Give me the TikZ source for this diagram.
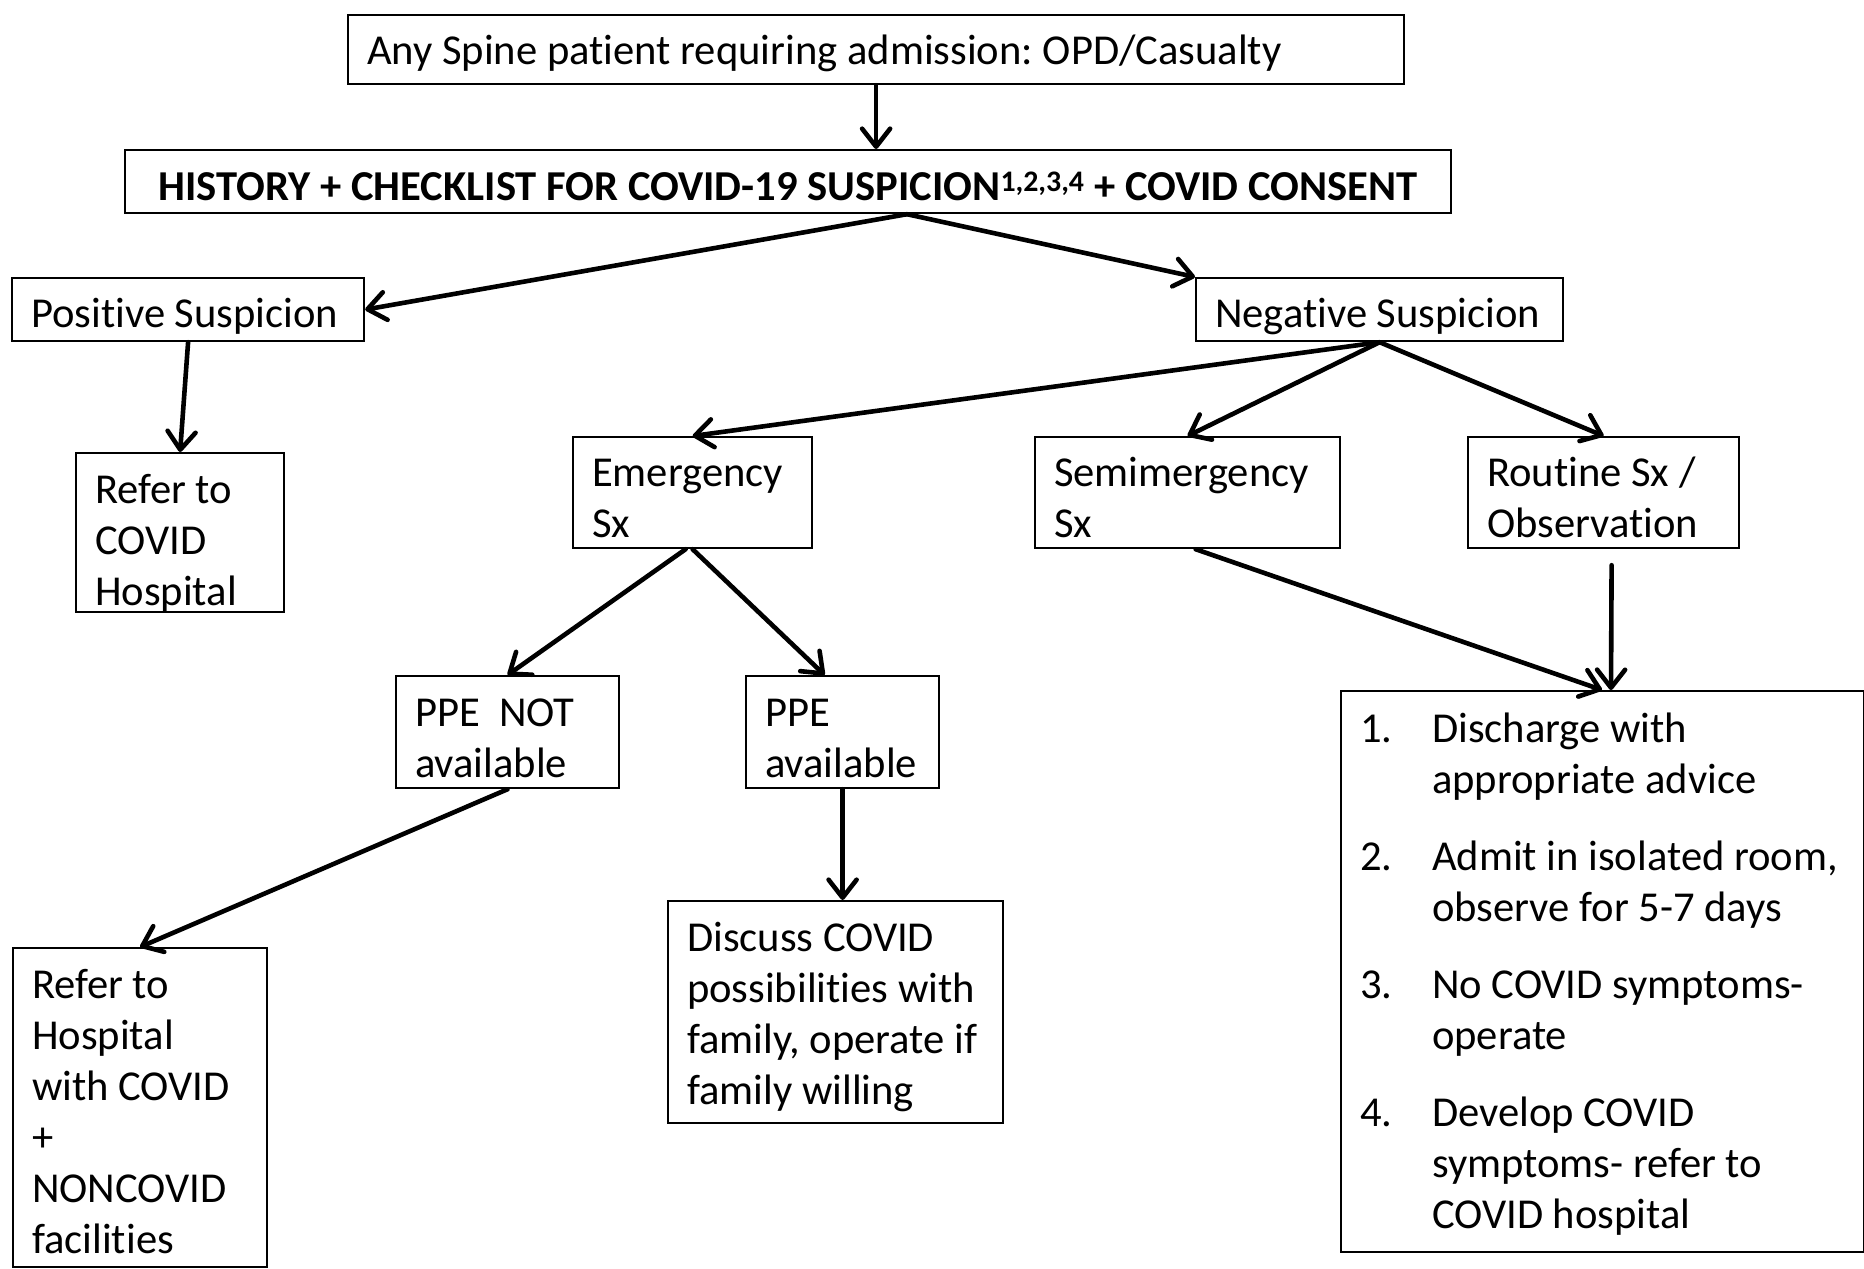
\documentclass[tikz,border=0pt]{standalone}
\usepackage{fontspec}
\setmainfont{Carlito}[Ligatures=NoCommon]
\usetikzlibrary{arrows.meta,calc}
% box content: #1 height, #2 inner width, #3 first baseline below top, #4 text
\newcommand\bxt[4]{\parbox[c][#1pt][t]{#2pt}{\raggedright\rule{0pt}{#3pt}#4}}
\tikzset{
  box/.style={draw, line width=2.2pt, rectangle, anchor=north west, inner xsep=19pt, inner ysep=0pt,
    font=\fontsize{42.6}{51}\selectfont\frenchspacing},
  arr/.style={line width=4.6pt, line cap=round, -{Straight Barb[length=18pt,width=28pt,round]}},
}
\begin{document}
\begin{tikzpicture}[x=1pt,y=-1pt]
\useasboundingbox (0,0) rectangle (1864,1269);
\node[box] (top) at (347,14) {\bxt{69}{1018}{49}{Any Spine patient requiring admission: OPD/Casualty}};
\node[box, font=\fontsize{42.6}{51}\selectfont\bfseries\frenchspacing] (history) at (124,149) {\bxt{63}{1288}{50}{\centering HISTORY + CHECKLIST FOR COVID-19 SUSPICION\textsuperscript{1,2,3,4} + COVID CONSENT}};
\node[box] (pos) at (11,277) {\bxt{63}{314}{49}{Positive Suspicion}};
\node[box] (neg) at (1195,277) {\bxt{63}{329}{49}{Negative Suspicion}};
\node[box] (refc) at (75,452) {\bxt{159}{170}{50}{Refer to\\COVID\\Hospital}};
\node[box] (emer) at (572,436) {\bxt{111}{201}{49}{Emergency\\Sx}};
\node[box] (semi) at (1034,436) {\bxt{111}{267}{49}{Semimergency\\Sx}};
\node[box] (rout) at (1467,436) {\bxt{111}{233}{49}{Routine Sx /\\Observation}};
\node[box] (ppen) at (395,675) {\bxt{112}{185}{50}{PPE\ \ NOT\\available}};
\node[box] (ppea) at (745,675) {\bxt{112}{155}{50}{PPE\\available}};
\node[box] (refh) at (12,947) {\bxt{319}{216}{50}{Refer to\\Hospital\\with COVID\\+\\NONCOVID\\facilities}};
\node[box] (disc) at (667,900) {\bxt{222}{297}{50}{Discuss COVID\\possibilities with\\family, operate if\\family willing}};
\node[box] (list) at (1340,690) {\bxt{561}{485}{51}{%
\begin{tabular}[t]{@{}p{72pt}@{}l@{}}
1. & Discharge with\\
   & appropriate advice\\[26pt]
2. & Admit in isolated room,\\
   & observe for 5-7 days\\[26pt]
3. & No COVID symptoms-\\
   & operate\\[26pt]
4. & Develop COVID\\
   & symptoms- refer to\\
   & COVID hospital
\end{tabular}}};
\coordinate (hs) at ($(history.south west)+(783,0)$);
\draw[arr] (top.south) -- (top.south |- history.north);
\draw[arr] (hs) -- (pos.east);
\draw[arr] (hs) -- (neg.north west);
\draw[arr] (pos.south) -- (refc.north);
\draw[arr] (neg.south) -- (emer.north);
\draw[arr] (neg.south) -- (semi.north);
\draw[arr] (neg.south) -- (rout.north);
\draw[arr] ($(emer.south)+(-7,0)$) -- (ppen.north);
\draw[arr] (emer.south) -- ($(ppea.north)+(-18,0)$);
\draw[arr] (ppen.south) -- (refh.north);
\draw[arr] (ppea.south) -- (ppea.south |- disc.north);
\draw[arr] ($(semi.south)+(8,0)$) -- ($(list.north west)+(262,0)$);
\draw[arr] ($(rout.south)+(8,16)$) -- ($(list.north west)+(271,0)$);
\end{tikzpicture}
\end{document}
